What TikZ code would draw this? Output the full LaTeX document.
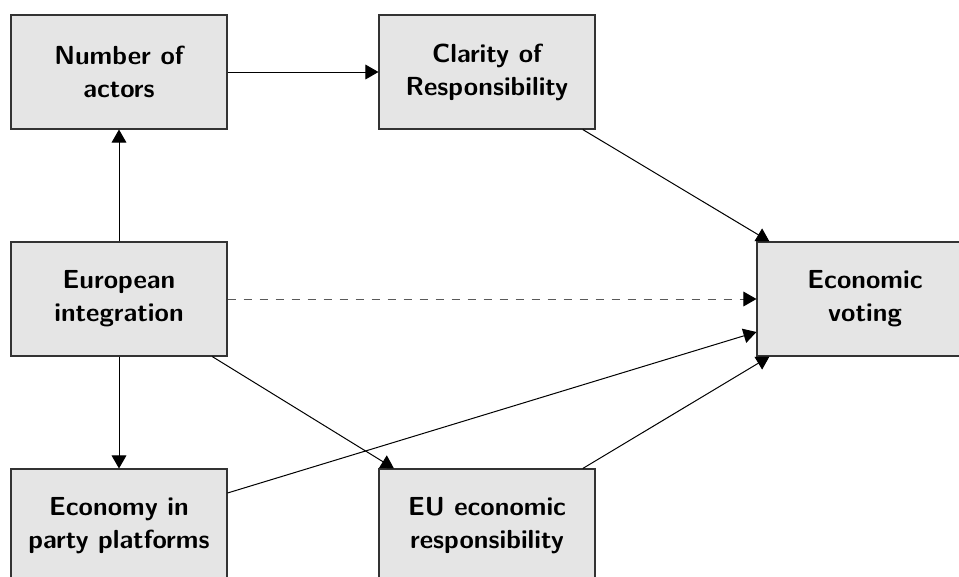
\documentclass[tikz,border=0pt]{standalone}
\usetikzlibrary{arrows.meta}
\begin{document}
\begin{tikzpicture}[x=0.75pt,y=-0.75pt,
  box/.style={draw=black!80, line width=0.8pt, fill=black!10, rectangle,
    minimum width=162pt, minimum height=85.5pt, align=center, inner sep=0pt,
    font=\sffamily\bfseries\fontsize{19.6}{24.75}\selectfont},
  conn/.style={draw=black, line width=0.75pt, -{Triangle[length=9.75pt,width=11pt]}},
  dconn/.style={draw=black!65, line width=0.75pt, dash pattern=on 6pt off 6pt,
    -{Triangle[length=9.75pt,width=11pt,color=black]}}]
\useasboundingbox (0,0) rectangle (959,576);
\node[box] (num) at (119,72) {Number of\\actors};
\node[box] (clar) at (487,72) {Clarity of\\Responsibility};
\node[box] (euro) at (119,299) {European\\integration};
\node[box] (vote) at (865,299) {Economic\\voting};
\node[box] (econ) at (119,526) {Economy in\\party platforms};
\node[box] (eures) at (487,526) {EU economic\\responsibility};
\draw[conn] (num) -- (clar);
\draw[conn] (euro) -- (num);
\draw[conn] (euro) -- (econ);
\draw[dconn] (euro) -- (vote);
\draw[conn] (euro) -- (eures);
\draw[conn] (clar) -- (vote);
\draw[conn] (econ) -- (vote);
\draw[conn] (eures) -- (vote);
\end{tikzpicture}
\end{document}
